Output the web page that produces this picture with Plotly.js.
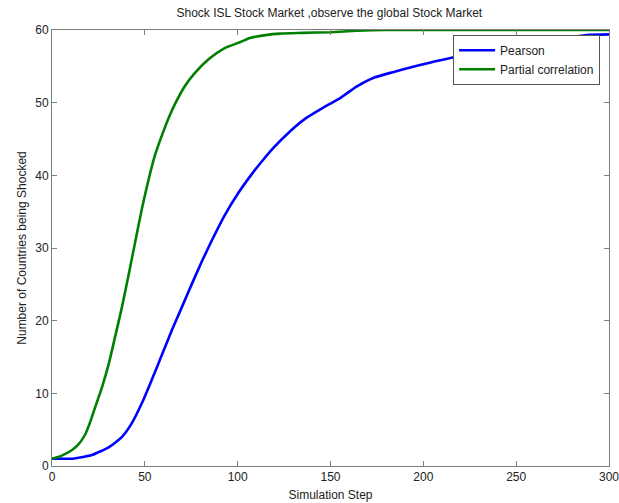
<!DOCTYPE html>
<html>
<head>
<meta charset="utf-8">
<script src="https://cdn.plot.ly/plotly-3.0.1.min.js"></script>
<style>html,body{margin:0;padding:0;background:#fff;}#chart{width:619px;height:503px;}</style>
</head>
<body>
<div id="chart"></div>
<script>
const pearsonX = [0, 5, 11, 16, 21.5, 26, 30.7, 34, 37.7, 43, 48.5, 53.8, 59.2, 64.6, 70, 75.4, 80.8, 86.2, 93, 100.7, 107.7, 113, 119, 128, 137, 146, 155, 164, 173, 183.6, 194, 203.5, 214, 230, 250, 270, 288, 300];
const pearsonY = [1, 1, 1, 1.2, 1.5, 2, 2.6, 3.2, 4, 5.9, 8.7, 11.9, 15.3, 18.7, 21.9, 25.1, 28.2, 31.1, 34.5, 37.7, 40.2, 41.9, 43.7, 46, 47.9, 49.3, 50.6, 52.2, 53.4, 54.2, 54.9, 55.5, 56.1, 56.9, 57.7, 58.6, 59.3, 59.4];
const partialX = [0, 5, 10.8, 14, 17.8, 20.5, 23, 27, 30.7, 34, 37.7, 41.5, 44.7, 48.5, 52.2, 55.5, 59.2, 63, 66.2, 71.6, 77, 84.5, 93, 102, 106.6, 115, 122.8, 135, 150, 164, 180, 200, 250, 300];
const partialY = [1, 1.4, 2.2, 2.9, 4.3, 6, 7.9, 10.9, 14.2, 17.8, 21.9, 26.6, 30.7, 35.5, 39.6, 42.8, 45.5, 48, 49.8, 52.3, 54.1, 56, 57.5, 58.4, 58.9, 59.3, 59.5, 59.6, 59.7, 59.9, 60, 60, 60, 60];
const seriesNames = ["Pearson", "Partial correlation"];

const traces = [
  {x: pearsonX, y: pearsonY, name: seriesNames[0], mode: 'lines', line: {color: '#0000ff', width: 2.6, shape: 'spline', smoothing: 0.6}},
  {x: partialX, y: partialY, name: seriesNames[1], mode: 'lines', line: {color: '#008000', width: 2.6, shape: 'spline', smoothing: 0.6}}
];

const FONT = 'Liberation Sans, Arial, sans-serif';
const axisCommon = {
  showgrid: false, zeroline: false, showline: true, mirror: 'ticks',
  linecolor: '#7f7f7f', linewidth: 1, ticks: 'inside', ticklen: 5, tickcolor: '#7f7f7f',
  ticklabeloverflow: 'allow',
  tickfont: {family: FONT, size: 12, color: '#222'}
};

const layout = {
  width: 619, height: 503,
  margin: {l: 52, r: 10, t: 30, b: 37},
  paper_bgcolor: '#fff', plot_bgcolor: '#fff',
  title: {text: 'Shock ISL Stock Market ,observe the global Stock Market', x: 0.532, xanchor: 'center', y: 0.975, yanchor: 'middle',
          font: {family: FONT, size: 12, color: '#222'}},
  xaxis: Object.assign({}, axisCommon, {range: [0, 300], tickvals: [0, 50, 100, 150, 200, 250, 300], automargin: false,
    title: {text: 'Simulation Step', standoff: 7, font: {family: FONT, size: 12, color: '#222'}}}),
  yaxis: Object.assign({}, axisCommon, {range: [0, 60], tickvals: [0, 10, 20, 30, 40, 50, 60], automargin: false,
    title: {text: 'Number of Countries being Shocked', standoff: 6, font: {family: FONT, size: 12, color: '#222'}}}),
  showlegend: true,
  legend: {x: 0.984, xanchor: 'right', y: 0.989, yanchor: 'top', bgcolor: '#fff', bordercolor: '#555', borderwidth: 1,
    font: {family: FONT, size: 12, color: '#222'}, tracegroupgap: 0, itemwidth: 36}
};

Plotly.newPlot('chart', traces, layout, {displayModeBar: false, staticPlot: true});
</script>
</body>
</html>
